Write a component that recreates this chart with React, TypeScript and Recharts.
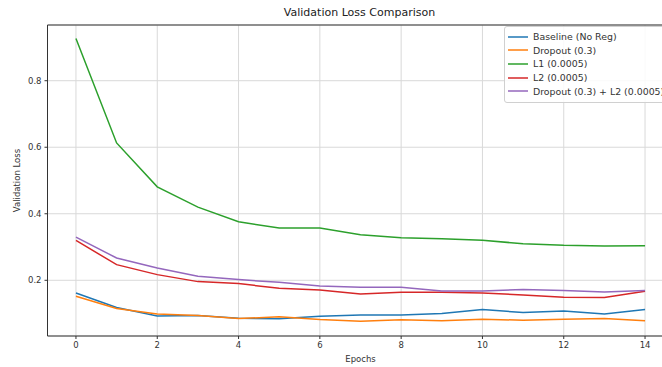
import {
  LineChart, Line, XAxis, YAxis, CartesianGrid, Legend, Label, ReferenceLine,
} from 'recharts';

const epochs = [0, 1, 2, 3, 4, 5, 6, 7, 8, 9, 10, 11, 12, 13, 14];
const baseline = [0.162, 0.118, 0.093, 0.094, 0.086, 0.084, 0.092, 0.096, 0.096, 0.1, 0.112, 0.103, 0.108, 0.099, 0.112];
const dropout = [0.152, 0.115, 0.099, 0.094, 0.085, 0.09, 0.082, 0.077, 0.081, 0.078, 0.083, 0.08, 0.083, 0.085, 0.078];
const l1 = [0.927, 0.613, 0.481, 0.42, 0.376, 0.357, 0.357, 0.337, 0.328, 0.325, 0.32, 0.31, 0.305, 0.303, 0.304];
const l2 = [0.32, 0.247, 0.217, 0.196, 0.19, 0.176, 0.171, 0.159, 0.164, 0.164, 0.162, 0.156, 0.149, 0.148, 0.167];
const combo = [0.33, 0.267, 0.237, 0.212, 0.202, 0.194, 0.183, 0.179, 0.179, 0.168, 0.168, 0.172, 0.169, 0.165, 0.169];

const xTicks = [0, 2, 4, 6, 8, 10, 12, 14];
const yTicks = [0.2, 0.4, 0.6, 0.8];

const series = [
  { key: 'baseline', name: 'Baseline (No Reg)', colour: '#1f77b4' },
  { key: 'dropout', name: 'Dropout (0.3)', colour: '#ff7f0e' },
  { key: 'l1', name: 'L1 (0.0005)', colour: '#2ca02c' },
  { key: 'l2', name: 'L2 (0.0005)', colour: '#d62728' },
  { key: 'combo', name: 'Dropout (0.3) + L2 (0.0005)', colour: '#9467bd' },
];

const data = epochs.map((e, i) => ({
  epoch: e,
  baseline: baseline[i],
  dropout: dropout[i],
  l1: l1[i],
  l2: l2[i],
  combo: combo[i],
}));

const FONT = '"DejaVu Sans", sans-serif';
const tickStyle = { fontSize: 8.5, fill: '#333', fontFamily: FONT };
const X_DOMAIN: [number, number] = [-0.7, 14.7];
const Y_MAX = 0.9675;
const GRID = '#d9d9d9';

function LegendBox() {
  return (
    <div
      style={{
        boxSizing: 'border-box',
        width: 172,
        border: '1px solid #d0d0d0',
        borderRadius: 3,
        background: 'rgba(255,255,255,0.85)',
        padding: '3px 6px 4px 3px',
        fontFamily: FONT,
        fontSize: 9.4,
        color: '#333',
        whiteSpace: 'nowrap',
      }}
    >
      {series.map((s) => (
        <div key={s.key} style={{ display: 'flex', alignItems: 'center', height: 13.6 }}>
          <svg width={25} height={10} style={{ flex: 'none' }}>
            <line x1={0} y1={5} x2={20} y2={5} stroke={s.colour} strokeWidth={1.5} />
          </svg>
          <span>{s.name}</span>
        </div>
      ))}
    </div>
  );
}

function YLabel(props: any) {
  const vb = props.viewBox;
  const cy = vb.y + vb.height / 2;
  return (
    <text
      x={17}
      y={cy}
      transform={`rotate(-90, 17, ${cy})`}
      textAnchor="middle"
      dominantBaseline="central"
      fontSize={8.5}
      fontFamily={FONT}
      fill="#333"
    >
      Validation Loss
    </text>
  );
}

export default function App() {
  return (
    <div style={{ position: 'fixed', left: 0, top: 0, width: 662, height: 367, overflow: 'hidden', background: '#fff' }}>
      <div
        style={{
          position: 'absolute', left: 0, top: 6, width: 719, textAlign: 'center',
          fontFamily: FONT, fontSize: 11, color: '#222',
        }}
      >
        Validation Loss Comparison
      </div>
      <LineChart
        width={690}
        height={367}
        data={data}
        margin={{ top: 25, right: 16.5, bottom: 0, left: 0 }}
      >
        <CartesianGrid stroke={GRID} strokeWidth={1} vertical={false} />
        {xTicks.map((t) => (
          <ReferenceLine key={t} x={t} stroke={GRID} strokeWidth={1} />
        ))}
        <XAxis
          dataKey="epoch"
          type="number"
          domain={X_DOMAIN}
          ticks={xTicks}
          allowDataOverflow
          height={31}
          tick={tickStyle}
          tickSize={3}
          tickMargin={3}
          stroke="#333"
          interval={0}
        >
          <Label value="Epochs" position="insideBottom" offset={5} style={{ fontSize: 8.5, fill: '#333', fontFamily: FONT }} />
        </XAxis>
        <YAxis
          type="number"
          domain={[0.0325, Y_MAX]}
          ticks={yTicks}
          allowDataOverflow
          width={47.5}
          tick={tickStyle}
          tickSize={3}
          tickMargin={3}
          tickFormatter={(v: number) => v.toFixed(1)}
          stroke="#333"
          interval={0}
        >
          <Label content={YLabel} />
        </YAxis>
        <ReferenceLine y={Y_MAX} stroke="#333" strokeWidth={1} />
        {series.map((s) => (
          <Line
            key={s.key}
            dataKey={s.key}
            name={s.name}
            stroke={s.colour}
            strokeWidth={1.5}
            dot={false}
            isAnimationActive={false}
          />
        ))}
        <Legend
          layout="horizontal"
          verticalAlign="middle"
          align="center"
          content={() => <LegendBox />}
          wrapperStyle={{ position: 'absolute', top: 26, left: 504, width: 172, height: 'auto' }}
        />
      </LineChart>
    </div>
  );
}
